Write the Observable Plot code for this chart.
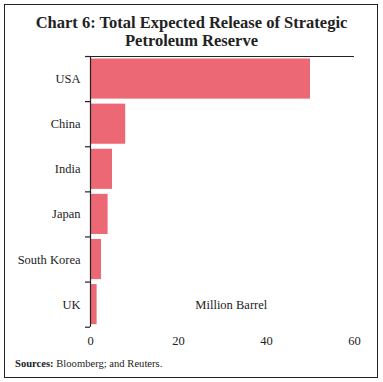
<!DOCTYPE html>
<html>
<head>
<meta charset="utf-8">
<script src="https://cdn.jsdelivr.net/npm/d3@7"></script>
<script src="https://cdn.jsdelivr.net/npm/@observablehq/plot@0.6"></script>
<style>
  body { margin: 0; background: #fff; width: 383px; height: 382px; position: relative; overflow: hidden; }
  #frame { position: absolute; left: 4px; top: 4px; width: 372px; height: 372px; border: 1.5px solid #222; }
  #title { position: absolute; left: 0; top: 14px; width: 383px; text-align: center; font: bold 16.5px "Liberation Serif", serif; line-height: 18px; color: #222; }
  #chart { position: absolute; left: 0; top: 50px; }
  #src { position: absolute; left: 15px; top: 358px; font: 10.6px "Liberation Serif", serif; line-height: 12px; color: #222; }
</style>
</head>
<body>
<div id="frame"></div>
<div id="title">Chart 6: Total Expected Release of Strategic<br>Petroleum Reserve</div>
<div id="chart"></div>
<div id="src"><b>Sources:</b> Bloomberg; and Reuters.</div>
<script>
const countries = ["USA", "China", "India", "Japan", "South Korea", "UK"];
const values = [50, 8, 5, 4, 2.5, 1.5];
const xTicks = [0, 20, 40, 60];
const unitLabel = "Million Barrel";

const data = countries.map((c, i) => ({country: c, index: i, value: values[i]}));

const chart = Plot.plot({
  width: 383,
  height: 305,
  marginLeft: 90,
  marginRight: 29,
  marginTop: 6,
  marginBottom: 28.3,
  style: {background: "transparent", fontFamily: "Liberation Serif, serif", fontSize: "12px", color: "#222"},
  x: {domain: [0, 60]},
  y: {domain: [0, countries.length], reverse: true},
  marks: [
    Plot.rect(data, {x1: 0, x2: "value", y1: "index", y2: d => d.index + 1, insetTop: 2.5, insetBottom: 2.5, fill: "#ec6874"}),
    Plot.ruleX([0], {stroke: "#222", strokeWidth: 1.2}),
    Plot.ruleY([0], {stroke: "#222", strokeWidth: 1.2}),
    Plot.axisY({ticks: d3.range(countries.length + 1), tickSize: 5, tickFormat: () => "", label: null, stroke: "#222", strokeWidth: 1.2}),
    Plot.axisY({ticks: countries.map((c, i) => i + 0.5), tickSize: 0, tickPadding: 10, tickFormat: t => countries[Math.floor(t)], fontSize: 12.5, label: null}),
    Plot.axisX({ticks: xTicks, tickSize: 0, tickPadding: 9, fontSize: 12.5, label: null}),
    Plot.text([unitLabel], {x: 32, y: countries.length - 0.5, text: d => d, fontSize: 12.5, fill: "#222"})
  ]
});
document.getElementById("chart").appendChild(chart);
</script>
</body>
</html>
